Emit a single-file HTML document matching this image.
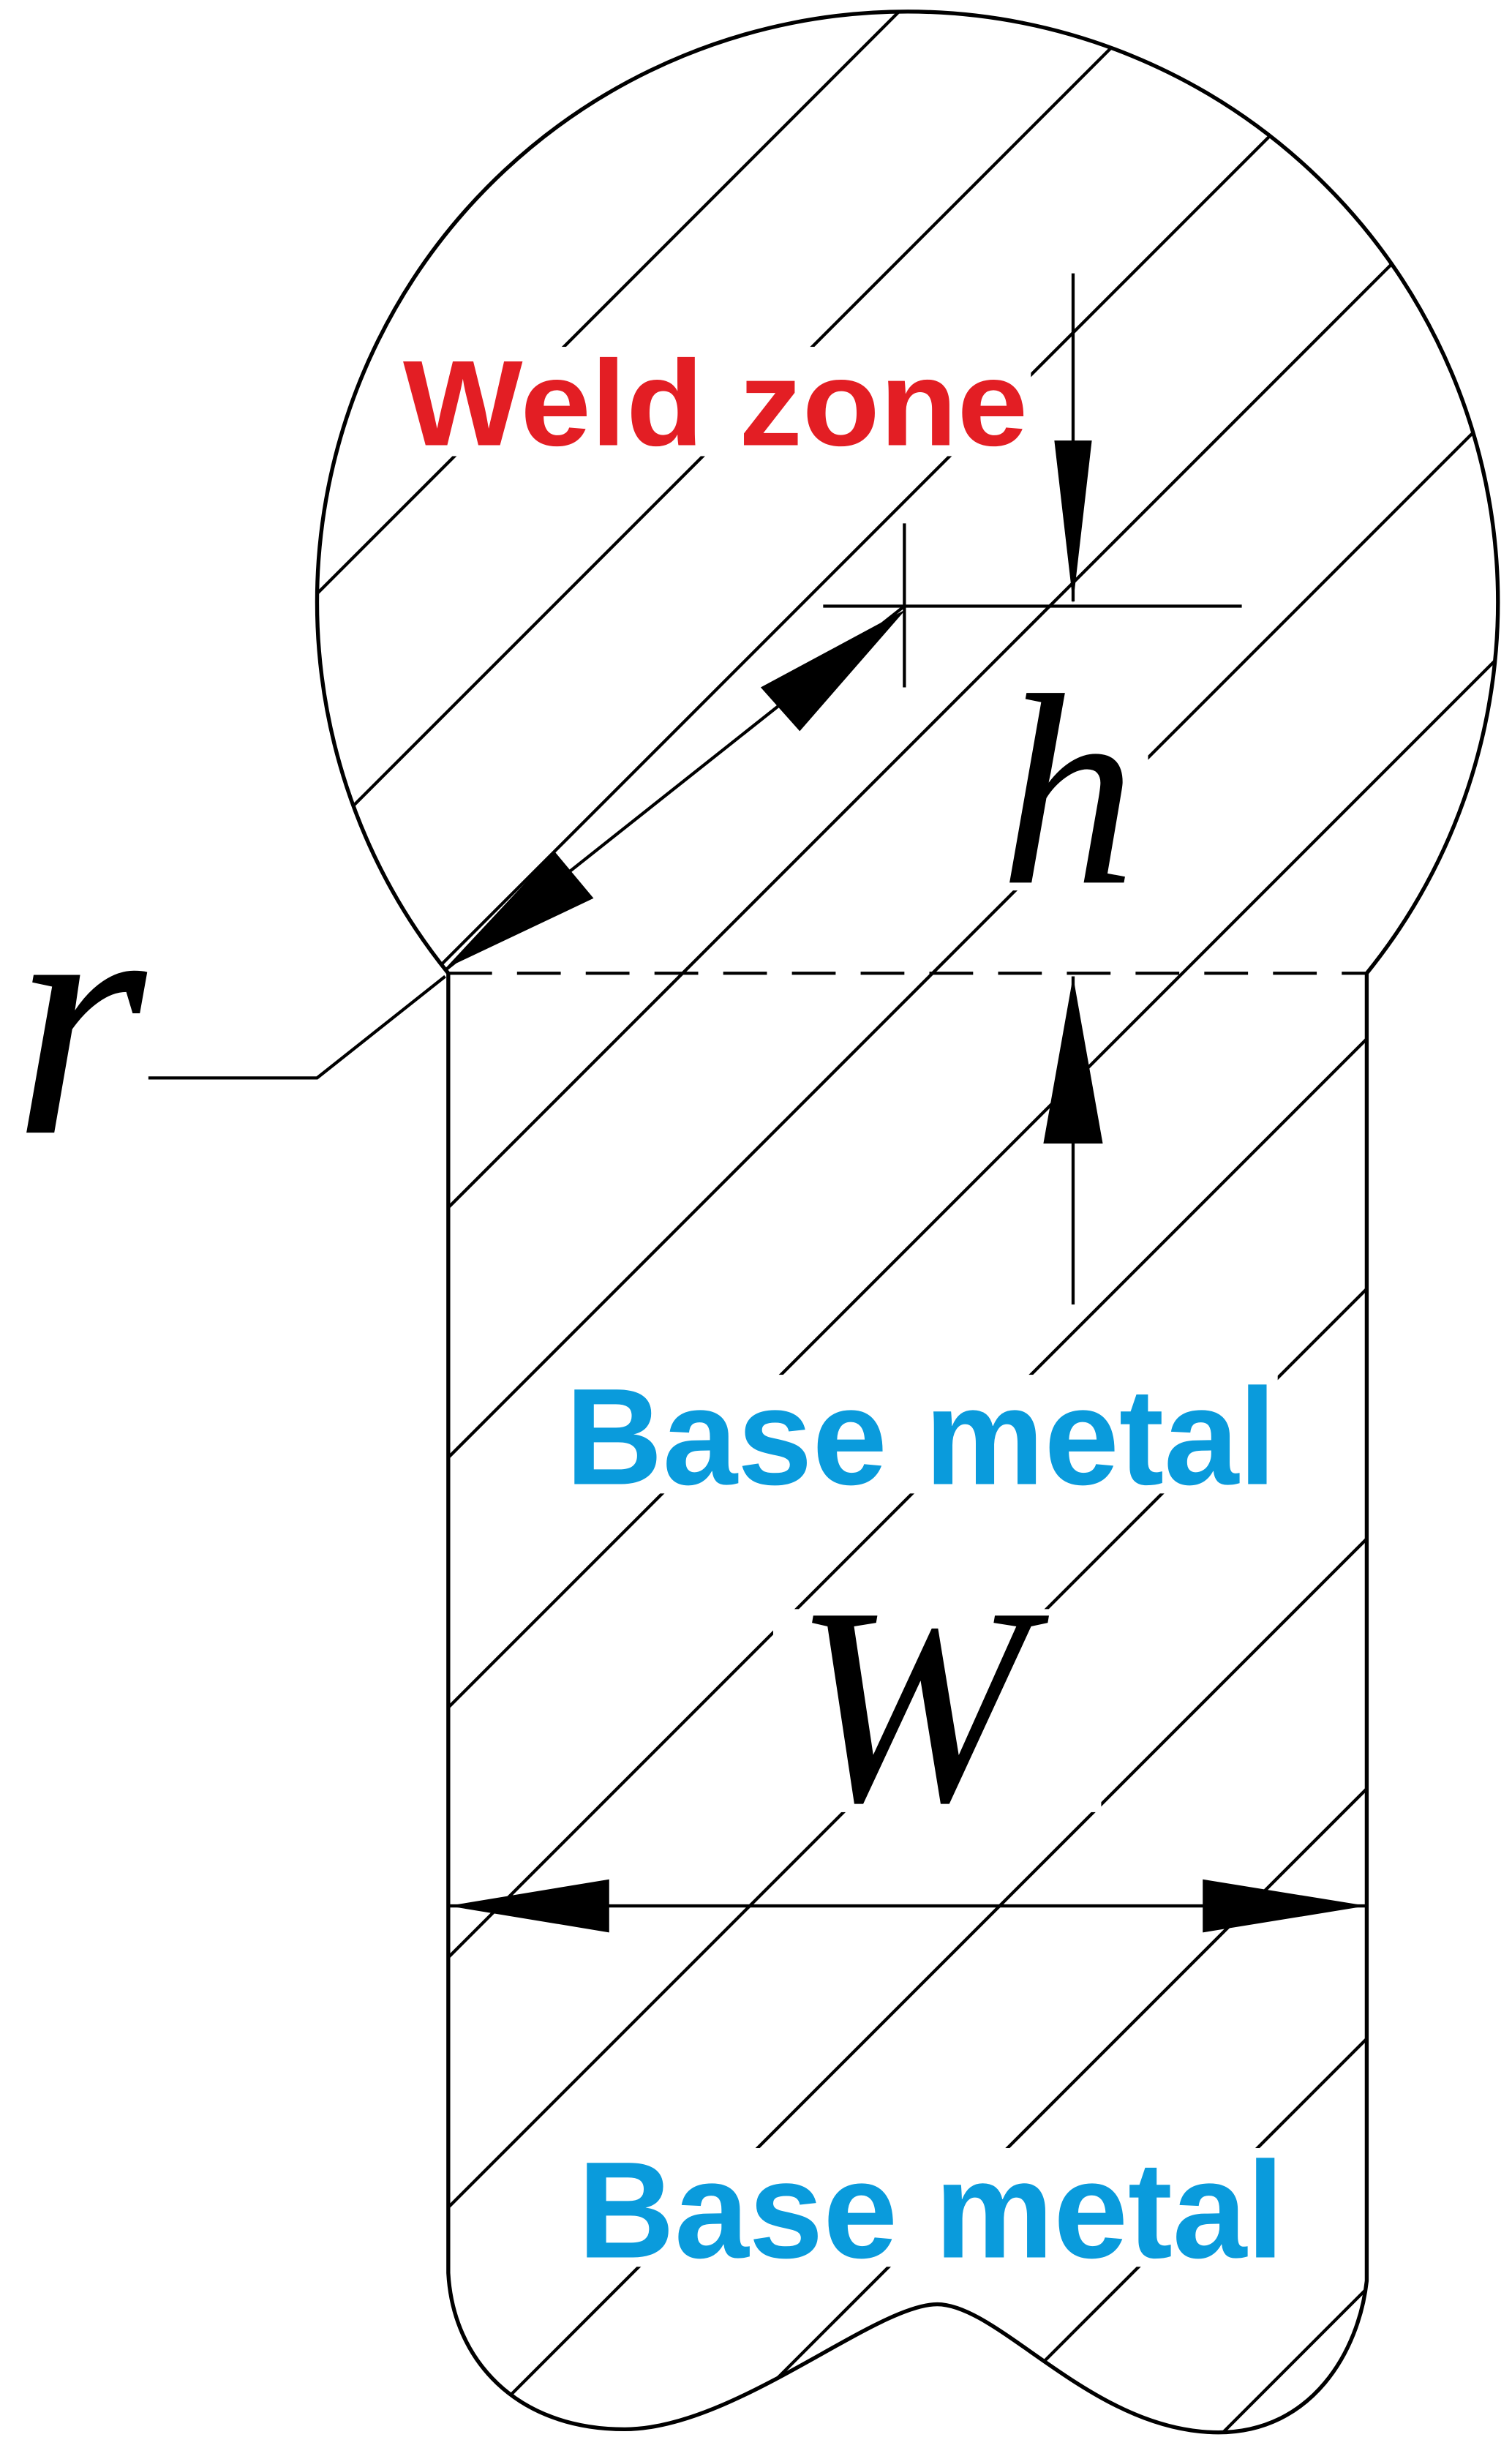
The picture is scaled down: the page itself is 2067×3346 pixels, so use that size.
<!DOCTYPE html>
<html><head><meta charset="utf-8"><style>
html,body{margin:0;padding:0;background:#fff;width:2067px;height:3346px;overflow:hidden;}
svg{display:block;position:absolute;left:0;top:0;overflow:hidden;}
</style></head><body>
<svg width="2067" height="3346" viewBox="0 0 968 1567" preserveAspectRatio="none" xmlns="http://www.w3.org/2000/svg">
<defs>
<clipPath id="c">
<path d="M287,623 A378,378 0 1 1 875,623 L875,1460 C870,1505 840,1557 780,1557 C700,1557 640,1475 600,1475 C560,1475 470,1555 400,1555 C330,1555 290,1510 287,1455 Z"/>
</clipPath>
</defs>
<g clip-path="url(#c)" stroke="#000" stroke-width="2">
<line x1="0" y1="425" x2="425" y2="0"/>
<line x1="0" y1="583" x2="583" y2="0"/>
<line x1="0" y1="742" x2="742" y2="0"/>
<line x1="0" y1="900" x2="900" y2="0"/>
<line x1="0" y1="1060" x2="968" y2="92"/>
<line x1="0" y1="1220" x2="968" y2="252"/>
<line x1="0" y1="1380" x2="968" y2="412"/>
<line x1="0" y1="1540" x2="968" y2="572"/>
<line x1="133" y1="1567" x2="968" y2="732"/>
<line x1="293" y1="1567" x2="968" y2="892"/>
<line x1="453" y1="1567" x2="968" y2="1052"/>
<line x1="613" y1="1567" x2="968" y2="1212"/>
<line x1="773" y1="1567" x2="968" y2="1372"/>
</g>
<rect x="258" y="222" width="402" height="70" fill="#fff"/>
<rect x="360" y="880" width="458" height="76" fill="#fff"/>
<rect x="368" y="1375" width="456" height="76" fill="#fff"/>
<rect x="625" y="440" width="110" height="130" fill="#fff"/>
<rect x="495" y="1030" width="210" height="130" fill="#fff"/>
<path d="M287,623 A378,378 0 1 1 875,623 L875,1460 C870,1505 840,1557 780,1557 C700,1557 640,1475 600,1475 C560,1475 470,1555 400,1555 C330,1555 290,1510 287,1455 Z" fill="none" stroke="#000" stroke-width="2.5"/>
<line x1="287" y1="623" x2="875" y2="623" stroke="#000" stroke-width="2" stroke-dasharray="28,16"/>
<g stroke="#000" stroke-width="2" fill="none">
<line x1="687" y1="175" x2="687" y2="385"/>
<line x1="527" y1="388" x2="795" y2="388"/>
<line x1="579" y1="335" x2="579" y2="440"/>
<line x1="687" y1="625" x2="687" y2="835"/>
<line x1="579" y1="388" x2="285" y2="621"/>
<polyline points="95,690 203,690 285,625"/>
<line x1="287" y1="1220" x2="875" y2="1220"/>
</g>
<g fill="#000">
<polygon points="687,386 675,282 699,282"/>
<polygon points="687,625 668,732 706,732"/>
<polygon points="580,390 487,440 512,468"/>
<polygon points="285,620 355,545 380,575"/>
<polygon points="287,1220 390,1203 390,1237"/>
<polygon points="875,1220 770,1203 770,1237"/>
</g>
<g font-family="Liberation Sans, sans-serif" font-weight="bold">
<text x="258" y="285" font-size="78" fill="#e31e24" textLength="400" lengthAdjust="spacingAndGlyphs">Weld zone</text>
<text x="362" y="950" font-size="88" fill="#0a9bdc" textLength="455" lengthAdjust="spacingAndGlyphs">Base metal</text>
<text x="370" y="1445" font-size="88" fill="#0a9bdc" textLength="452" lengthAdjust="spacingAndGlyphs">Base metal</text>
</g>
<g font-family="Liberation Serif, serif" font-style="italic" fill="#000">
<text x="640" y="565" font-size="175">h</text>
<text x="8" y="725" font-size="220">r</text>
<text x="508" y="1152" font-size="180">W</text>
</g>
</svg>
</body></html>
